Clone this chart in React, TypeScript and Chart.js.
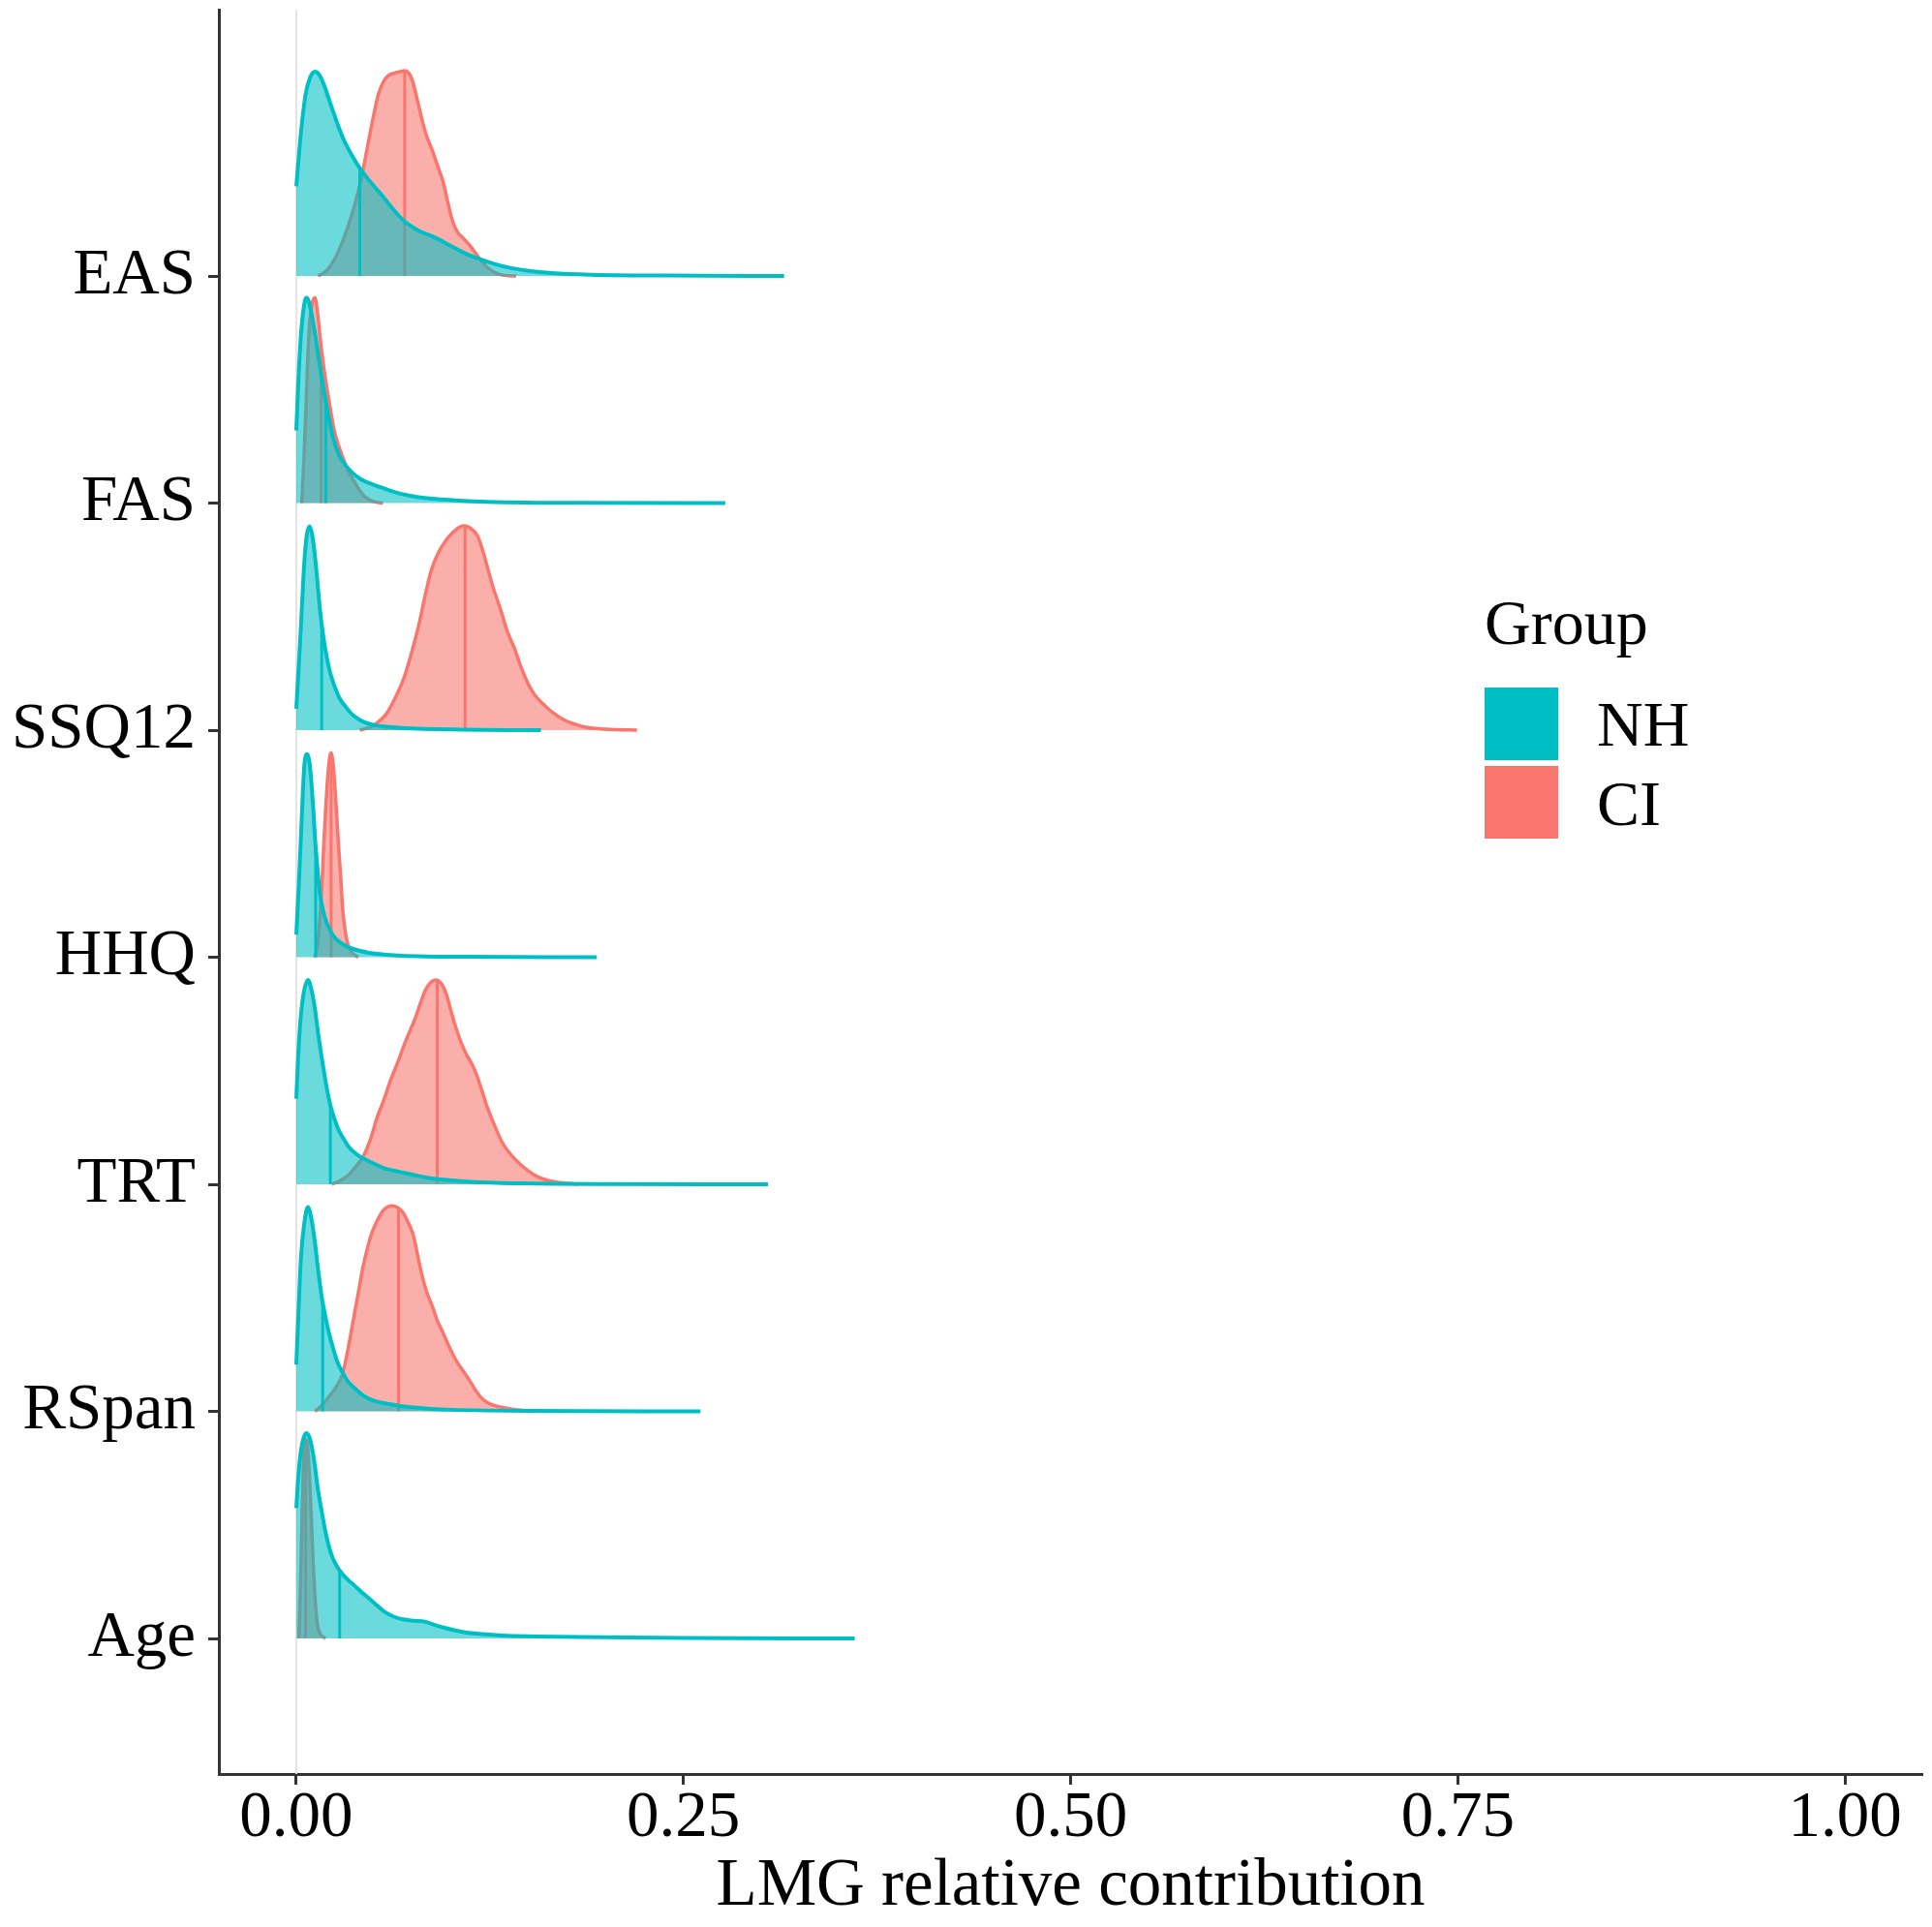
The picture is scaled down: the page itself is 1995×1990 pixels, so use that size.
import React, { useEffect, useRef } from "react";
import { Chart, registerables } from "chart.js";

Chart.register(...registerables);

// ---------- data ----------
const CATEGORIES = ["EAS", "FAS", "SSQ12", "HHQ", "TRT", "RSpan", "Age"]; // top to bottom
const GROUPS = ["NH", "CI"];
const GROUP_COLORS = ["#00BFC4", "#F8766D"];
const LEGEND_TITLE = "Group";
const X_TITLE = "LMG relative contribution";
const X_TICKS = [0, 0.25, 0.5, 0.75, 1.0];
const X_TICK_LABELS = ["0.00", "0.25", "0.50", "0.75", "1.00"];

// ridge profiles: [LMG value, scaled density height]
const NH_EAS = [[0, 0.395], [0.003, 0.63], [0.006, 0.8], [0.009, 0.875], [0.012, 0.9], [0.015, 0.885], [0.018, 0.84], [0.021, 0.78], [0.025, 0.7], [0.03, 0.61], [0.036, 0.53], [0.042, 0.465], [0.049, 0.405], [0.0566, 0.345], [0.063, 0.29], [0.07, 0.24], [0.079, 0.2], [0.09, 0.168], [0.101, 0.128], [0.11, 0.097], [0.119, 0.073], [0.128, 0.053], [0.138, 0.036], [0.15, 0.023], [0.165, 0.013], [0.19, 0.006], [0.24, 0.002], [0.315, 0]];
const CI_EAS = [[0.014, 0], [0.019, 0.02], [0.023, 0.054], [0.028, 0.12], [0.034, 0.23], [0.038, 0.32], [0.042, 0.43], [0.046, 0.57], [0.05, 0.71], [0.053, 0.8], [0.0566, 0.86], [0.06, 0.885], [0.063, 0.893], [0.067, 0.9], [0.07, 0.904], [0.0725, 0.895], [0.075, 0.86], [0.078, 0.78], [0.081, 0.694], [0.084, 0.62], [0.088, 0.55], [0.091, 0.49], [0.095, 0.41], [0.098, 0.32], [0.101, 0.24], [0.104, 0.195], [0.108, 0.165], [0.112, 0.135], [0.115, 0.108], [0.119, 0.07], [0.123, 0.04], [0.128, 0.016], [0.133, 0.004], [0.142, 0]];
const NH_FAS = [[0, 0.32], [0.0015, 0.56], [0.003, 0.74], [0.0048, 0.86], [0.0064, 0.904], [0.008, 0.89], [0.0097, 0.84], [0.012, 0.75], [0.014, 0.66], [0.0165, 0.55], [0.019, 0.45], [0.022, 0.34], [0.025, 0.26], [0.028, 0.205], [0.032, 0.165], [0.036, 0.135], [0.041, 0.108], [0.047, 0.088], [0.0544, 0.07], [0.061, 0.054], [0.068, 0.04], [0.078, 0.027], [0.09, 0.018], [0.105, 0.011], [0.123, 0.006], [0.18, 0.001], [0.277, 0]];
const CI_FAS = [[0.0035, 0], [0.005, 0.2], [0.0064, 0.45], [0.0075, 0.65], [0.0086, 0.79], [0.0103, 0.88], [0.012, 0.904], [0.0137, 0.84], [0.0153, 0.733], [0.0175, 0.61], [0.0198, 0.506], [0.022, 0.415], [0.024, 0.335], [0.027, 0.26], [0.0298, 0.205], [0.033, 0.15], [0.0365, 0.105], [0.04, 0.065], [0.043, 0.037], [0.047, 0.015], [0.05, 0.006], [0.056, 0]];
const NH_SSQ12 = [[0, 0.095], [0.0015, 0.27], [0.003, 0.458], [0.0052, 0.742], [0.0068, 0.86], [0.0086, 0.898], [0.0103, 0.86], [0.012, 0.77], [0.0137, 0.65], [0.0153, 0.53], [0.0175, 0.41], [0.0198, 0.316], [0.022, 0.25], [0.025, 0.188], [0.028, 0.14], [0.032, 0.102], [0.036, 0.07], [0.041, 0.045], [0.046, 0.03], [0.052, 0.02], [0.06, 0.014], [0.068, 0.01], [0.1, 0.003], [0.158, 0]];
const CI_SSQ12 = [[0.041, 0], [0.047, 0.012], [0.052, 0.031], [0.058, 0.07], [0.063, 0.13], [0.069, 0.22], [0.074, 0.33], [0.079, 0.46], [0.083, 0.586], [0.087, 0.7], [0.092, 0.785], [0.096, 0.83], [0.101, 0.87], [0.105, 0.893], [0.108, 0.9], [0.112, 0.892], [0.117, 0.856], [0.12, 0.8], [0.123, 0.728], [0.127, 0.63], [0.132, 0.53], [0.136, 0.44], [0.141, 0.358], [0.145, 0.28], [0.15, 0.2], [0.154, 0.155], [0.159, 0.117], [0.166, 0.075], [0.173, 0.045], [0.18, 0.026], [0.186, 0.014], [0.2, 0.004], [0.22, 0]];
const NH_HHQ = [[0, 0.1], [0.0015, 0.3], [0.003, 0.53], [0.0042, 0.72], [0.0052, 0.845], [0.007, 0.895], [0.0085, 0.86], [0.0097, 0.775], [0.011, 0.65], [0.012, 0.533], [0.0137, 0.39], [0.0153, 0.277], [0.0175, 0.2], [0.0198, 0.149], [0.023, 0.105], [0.026, 0.078], [0.03, 0.058], [0.034, 0.043], [0.04, 0.03], [0.048, 0.018], [0.058, 0.011], [0.068, 0.007], [0.11, 0.002], [0.194, 0]];
const CI_HHQ = [[0.012, 0], [0.0138, 0.06], [0.0153, 0.178], [0.0165, 0.31], [0.0175, 0.46], [0.0187, 0.62], [0.0198, 0.746], [0.021, 0.85], [0.0224, 0.9], [0.0238, 0.85], [0.025, 0.746], [0.0263, 0.6], [0.0276, 0.46], [0.029, 0.32], [0.03, 0.206], [0.0315, 0.12], [0.033, 0.064], [0.035, 0.03], [0.0376, 0.01], [0.04, 0]];
const NH_TRT = [[0, 0.377], [0.0015, 0.6], [0.003, 0.746], [0.005, 0.85], [0.0075, 0.9], [0.0097, 0.86], [0.012, 0.775], [0.014, 0.67], [0.0164, 0.56], [0.019, 0.45], [0.022, 0.348], [0.0248, 0.285], [0.0276, 0.235], [0.031, 0.195], [0.034, 0.163], [0.039, 0.132], [0.0454, 0.107], [0.051, 0.088], [0.0566, 0.071], [0.063, 0.06], [0.07, 0.05], [0.078, 0.038], [0.0856, 0.028], [0.095, 0.02], [0.106, 0.014], [0.12, 0.009], [0.146, 0.004], [0.2, 0.001], [0.3046, 0]];
const CI_TRT = [[0.023, 0], [0.028, 0.015], [0.034, 0.043], [0.038, 0.075], [0.043, 0.12], [0.048, 0.2], [0.052, 0.29], [0.057, 0.38], [0.061, 0.46], [0.066, 0.545], [0.07, 0.62], [0.074, 0.685], [0.077, 0.735], [0.0803, 0.8], [0.0834, 0.855], [0.087, 0.89], [0.09, 0.9], [0.0935, 0.885], [0.097, 0.835], [0.1, 0.76], [0.1035, 0.68], [0.107, 0.615], [0.11, 0.57], [0.113, 0.535], [0.116, 0.49], [0.12, 0.41], [0.1236, 0.334], [0.128, 0.26], [0.1325, 0.19], [0.138, 0.135], [0.144, 0.092], [0.15, 0.058], [0.155, 0.036], [0.162, 0.018], [0.168, 0.01], [0.182, 0]];
const NH_RSPAN = [[0, 0.206], [0.0015, 0.45], [0.003, 0.675], [0.005, 0.82], [0.0075, 0.9], [0.0097, 0.85], [0.012, 0.746], [0.014, 0.63], [0.0164, 0.505], [0.0187, 0.42], [0.021, 0.348], [0.0237, 0.28], [0.0264, 0.22], [0.03, 0.17], [0.033, 0.135], [0.038, 0.1], [0.043, 0.071], [0.049, 0.05], [0.0566, 0.036], [0.065, 0.026], [0.074, 0.018], [0.087, 0.011], [0.101, 0.007], [0.15, 0.002], [0.261, 0]];
const CI_RSPAN = [[0.012, 0], [0.017, 0.03], [0.021, 0.064], [0.026, 0.11], [0.0298, 0.163], [0.033, 0.26], [0.0365, 0.39], [0.04, 0.52], [0.043, 0.633], [0.046, 0.72], [0.049, 0.79], [0.053, 0.85], [0.0566, 0.888], [0.062, 0.905], [0.066, 0.895], [0.069, 0.874], [0.072, 0.835], [0.0756, 0.775], [0.078, 0.7], [0.081, 0.604], [0.084, 0.53], [0.088, 0.46], [0.091, 0.4], [0.0946, 0.348], [0.099, 0.28], [0.1035, 0.22], [0.108, 0.175], [0.112, 0.135], [0.116, 0.09], [0.121, 0.05], [0.126, 0.03], [0.1325, 0.018], [0.146, 0.004], [0.16, 0]];
const NH_AGE = [[0, 0.574], [0.0014, 0.72], [0.0028, 0.816], [0.0046, 0.88], [0.0064, 0.904], [0.0082, 0.89], [0.01, 0.844], [0.012, 0.76], [0.0136, 0.674], [0.016, 0.575], [0.0183, 0.489], [0.0207, 0.415], [0.0231, 0.361], [0.026, 0.32], [0.029, 0.29], [0.033, 0.26], [0.0375, 0.233], [0.042, 0.205], [0.047, 0.176], [0.052, 0.146], [0.0566, 0.119], [0.0626, 0.097], [0.0686, 0.084], [0.076, 0.078], [0.083, 0.074], [0.089, 0.06], [0.095, 0.048], [0.102, 0.036], [0.109, 0.027], [0.12, 0.019], [0.133, 0.013], [0.155, 0.009], [0.181, 0.006], [0.25, 0.002], [0.3606, 0]];
const CI_AGE = [[0.0017, 0], [0.0026, 0.2], [0.0035, 0.46], [0.0044, 0.72], [0.0052, 0.85], [0.006, 0.875], [0.0068, 0.87], [0.0078, 0.8], [0.0088, 0.674], [0.01, 0.48], [0.0112, 0.29], [0.0124, 0.15], [0.0136, 0.063], [0.015, 0.025], [0.017, 0.008], [0.019, 0]];

const NH_CURVES = [NH_EAS, NH_FAS, NH_SSQ12, NH_HHQ, NH_TRT, NH_RSPAN, NH_AGE];
const CI_CURVES = [CI_EAS, CI_FAS, CI_SSQ12, CI_HHQ, CI_TRT, CI_RSPAN, CI_AGE];
const NH_MEDIANS = [0.041, 0.019, 0.0164, 0.0125, 0.022, 0.017, 0.028];
const CI_MEDIANS = [0.07, 0.016, 0.109, 0.0225, 0.091, 0.066, 0.006];

// ---------- helpers ----------
const FONT = "'Liberation Serif', 'Times New Roman', serif";
const Y_MIN = 0.403;
const Y_MAX = 8.173;

function heightAt(curve: number[][], x: number): number {
  for (let i = 1; i < curve.length; i++) {
    const [x0, h0] = curve[i - 1];
    const [x1, h1] = curve[i];
    if (x >= x0 && x <= x1) {
      const t = x1 === x0 ? 0 : (x - x0) / (x1 - x0);
      return h0 + t * (h1 - h0);
    }
  }
  return 0;
}

function rgba(hex: string, a: number): string {
  const r = parseInt(hex.slice(1, 3), 16);
  const g = parseInt(hex.slice(3, 5), 16);
  const b = parseInt(hex.slice(5, 7), 16);
  return `rgba(${r},${g},${b},${a})`;
}

const legendPlugin = {
  id: "groupLegend",
  afterDraw(chart: any) {
    const ctx = chart.ctx;
    ctx.save();
    ctx.font = `66px ${FONT}`;
    ctx.textBaseline = "alphabetic";
    ctx.textAlign = "left";
    ctx.fillStyle = "#000000";
    ctx.fillText(LEGEND_TITLE, 1533, 665);
    GROUPS.forEach((g, i) => {
      ctx.fillStyle = GROUP_COLORS[i];
      ctx.fillRect(1533, 710 + i * 81, 76, 75);
      ctx.fillStyle = "#000000";
      ctx.fillText(g, 1649, 770 + i * 82);
    });
    ctx.restore();
  },
};

export default function App() {
  const canvasRef = useRef<HTMLCanvasElement | null>(null);

  useEffect(() => {
    if (!canvasRef.current) return;
    const datasets: any[] = [];
    let order = 0;
    datasets.push({
      data: [{ x: 0, y: Y_MIN }, { x: 0, y: Y_MAX }],
      borderColor: "#E4E4E4",
      borderWidth: 2,
      pointRadius: 0,
      fill: false,
      order: order--,
    });
    const n = CATEGORIES.length;
    CATEGORIES.forEach((_, i) => {
      const base = n - i;
      const groups = [
        { curve: CI_CURVES[i], med: CI_MEDIANS[i], color: GROUP_COLORS[1], w: 3.5 },
        { curve: NH_CURVES[i], med: NH_MEDIANS[i], color: GROUP_COLORS[0], w: 4 },
      ];
      groups.forEach((g) => {
        datasets.push({
          data: g.curve.map(([x, h]) => ({ x, y: base + h })),
          borderColor: g.color,
          backgroundColor: rgba(g.color, 0.58),
          borderWidth: g.w,
          pointRadius: 0,
          cubicInterpolationMode: "monotone",
          fill: { value: base },
          order: order--,
        });
        const mh = heightAt(g.curve, g.med);
        datasets.push({
          data: [{ x: g.med, y: base }, { x: g.med, y: base + mh }],
          borderColor: g.color,
          borderWidth: 3,
          pointRadius: 0,
          fill: false,
          order: order--,
        });
      });
    });

    const chart = new Chart(canvasRef.current, {
      type: "line",
      data: { datasets },
      plugins: [legendPlugin],
      options: {
        animation: false,
        responsive: false,
        devicePixelRatio: 1,
        layout: { padding: { top: 10, right: 10, left: 0, bottom: 0 } },
        plugins: {
          legend: { display: false },
          tooltip: { enabled: false },
        },
        elements: { line: { borderCapStyle: "butt", borderJoinStyle: "round" } },
        scales: {
          x: {
            type: "linear",
            min: -0.05,
            max: 1.05,
            afterBuildTicks: (scale: any) => {
              scale.ticks = X_TICKS.map((v) => ({ value: v }));
            },
            afterFit: (scale: any) => {
              scale.height = 158;
              scale.paddingLeft = 0;
              scale.paddingRight = 0;
            },
            ticks: {
              autoSkip: false,
              maxRotation: 0,
              color: "#000000",
              padding: 2,
              font: { family: FONT, size: 67, lineHeight: 1 },
              callback: (v: any) => {
                const idx = X_TICKS.indexOf(Number(v));
                return idx >= 0 ? X_TICK_LABELS[idx] : "";
              },
            },
            grid: {
              display: true,
              drawOnChartArea: false,
              drawTicks: true,
              tickLength: 11,
              tickColor: "#333333",
              tickWidth: 3,
            },
            border: { display: true, color: "#333333", width: 3 },
            title: {
              display: true,
              text: X_TITLE,
              color: "#000000",
              font: { family: FONT, size: 69, lineHeight: 1.2 },
              padding: { top: 0, bottom: 0 },
            },
          },
          y: {
            type: "linear",
            min: Y_MIN,
            max: Y_MAX,
            afterBuildTicks: (scale: any) => {
              scale.ticks = CATEGORIES.map((_, i) => ({ value: n - i }));
            },
            afterFit: (scale: any) => {
              scale.width = 226;
              scale.paddingTop = 0;
              scale.paddingBottom = 0;
            },
            ticks: {
              autoSkip: false,
              color: "#000000",
              padding: 13,
              font: { family: FONT, size: 67 },
              callback: (v: any) => {
                const idx = n - Number(v);
                return CATEGORIES[idx] ?? "";
              },
            },
            grid: {
              display: true,
              drawOnChartArea: false,
              drawTicks: true,
              tickLength: 11,
              tickColor: "#333333",
              tickWidth: 3,
            },
            border: { display: true, color: "#333333", width: 3 },
          },
        },
      },
    } as any);

    return () => {
      chart.destroy();
    };
  }, []);

  return (
    <div style={{ position: "absolute", left: 0, top: 0, width: 1995, height: 1990, background: "#ffffff" }}>
      <canvas ref={canvasRef} width={1995} height={1990} style={{ display: "block" }} />
    </div>
  );
}
